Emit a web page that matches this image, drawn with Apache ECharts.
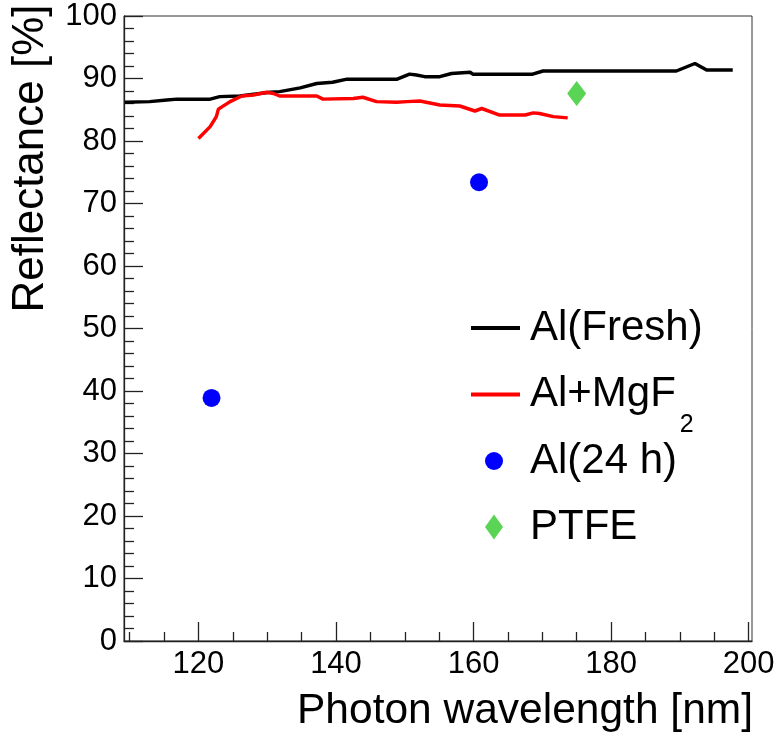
<!DOCTYPE html>
<html>
<head>
<meta charset="utf-8">
<script src="https://cdn.jsdelivr.net/npm/echarts@6/dist/echarts.min.js"></script>
<style>html,body{margin:0;padding:0;background:#fff}#c{width:780px;height:736px}</style>
</head>
<body>
<div id="c"></div>
<script>
// ---- data ----
const freshWavelength = [109.3,112.9,115.4,116.9,121.7,123.1,126.0,130.4,131.8,134.8,137.2,139.5,141.6,148.9,150.7,151.7,152.9,155.1,156.8,159.5,159.9,168.6,170.1,189.5,192.2,193.9,197.7];
const freshReflectance = [86.2,86.3,86.55,86.7,86.7,87.1,87.2,87.8,87.9,88.5,89.2,89.4,89.9,89.9,90.7,90.55,90.3,90.3,90.8,91.0,90.7,90.7,91.2,91.2,92.4,91.35,91.35];
const mgf2Wavelength = [120.0,121.7,122.6,122.9,124.6,126.3,128.0,129.9,130.9,131.8,137.2,138.1,142.5,143.9,145.9,148.8,150.3,152.2,155.1,158.0,160.2,161.2,163.8,167.5,168.7,169.6,171.6,173.7];
const mgf2Reflectance = [80.4,82.3,83.9,85.1,86.3,87.2,87.35,87.8,87.6,87.2,87.2,86.7,86.8,87.0,86.3,86.2,86.3,86.4,85.75,85.6,84.8,85.2,84.15,84.15,84.5,84.4,83.9,83.7];
const aged24Wavelength = [121.9, 160.8];
const aged24Reflectance = [38.9, 73.4];
const ptfeWavelength = [175.0];
const ptfeReflectance = [87.6];
const xMajorTicks = [120,140,160,180,200];
const xMinorTicks = [110,115,125,130,135,145,150,155,165,170,175,185,190,195];
const seriesNames = ['Al(Fresh)','Al+MgF2','Al(24 h)','PTFE'];

const zip = (a,b) => a.map((v,i)=>[v,b[i]]);
const FONT = "'Liberation Sans', Arial, Helvetica, sans-serif";
const XMIN = 109.17, XMAX = 200.5;

const chart = echarts.init(document.getElementById('c'), null, {renderer:'canvas'});
const legendBase = {
  orient:'vertical', padding:0, itemGap:0, selectedMode:false,
  textStyle:{fontFamily:FONT, fontSize:42, color:'#000', lineHeight:44}
};
chart.setOption({
  animation:false,
  backgroundColor:'#fff',
  grid:{left:124, right:28, top:16, bottom:95, containLabel:false, outerBoundsMode:'none',
        show:true, borderColor:'#333', borderWidth:1, backgroundColor:'transparent'},
  xAxis:[{
    type:'value', min:XMIN, max:XMAX, position:'bottom',
    name:'Photon wavelength [nm]', nameLocation:'middle', nameGap:49,
    nameTextStyle:{fontFamily:FONT, fontSize:42.5, color:'#000', padding:[0,0,0,174]},
    axisLine:{show:true, onZero:false, lineStyle:{color:'#222', width:1.3}},
    axisTick:{show:true, inside:true, length:19, customValues:xMajorTicks, lineStyle:{color:'#222', width:1.3}},
    axisLabel:{show:true, margin:8, fontFamily:FONT, fontSize:31, color:'#000', customValues:xMajorTicks},
    splitLine:{show:false}
  },{
    type:'value', min:XMIN, max:XMAX, position:'bottom',
    axisLine:{show:false},
    axisTick:{show:true, inside:true, length:9, customValues:xMinorTicks, lineStyle:{color:'#222', width:1.3}},
    axisLabel:{show:false},
    splitLine:{show:false}
  }],
  yAxis:{
    type:'value', min:0, max:100, interval:10,
    name:'Reflectance [%]', nameLocation:'middle', nameRotate:90, nameGap:71,
    nameTextStyle:{fontFamily:FONT, fontSize:44, color:'#000', padding:[0,0,0,340]},
    axisLine:{show:true, onZero:false, lineStyle:{color:'#222', width:1.3}},
    axisTick:{show:true, inside:true, length:19, lineStyle:{color:'#222', width:1.3}},
    minorTick:{show:true, splitNumber:5, length:10, lineStyle:{color:'#222', width:1.3}},
    axisLabel:{margin:7, fontFamily:FONT, fontSize:31, color:'#000', showMinLabel:true, showMaxLabel:true},
    splitLine:{show:false}
  },
  legend:[
    Object.assign({}, legendBase, {left:471, top:306, itemWidth:49, itemHeight:4, icon:'rect',
      data:[seriesNames[0]], textStyle:Object.assign({}, legendBase.textStyle, {padding:[0,0,0,5]})}),
    Object.assign({}, legendBase, {left:471, top:351, itemWidth:49, itemHeight:4, icon:'rect',
      data:[seriesNames[1]],
      formatter:()=> '{n|Al+MgF}{s|2}',
      textStyle:Object.assign({}, legendBase.textStyle, {
        rich:{
          n:{fontFamily:FONT, fontSize:42, color:'#000', lineHeight:44, padding:[0,0,0,5]},
          s:{fontFamily:FONT, fontSize:25, color:'#000', lineHeight:44, padding:[62,0,0,4]}
        }})}),
    Object.assign({}, legendBase, {left:485, top:439, itemWidth:18, itemHeight:25,
      data:[{name:seriesNames[2], icon:'circle'}], textStyle:Object.assign({}, legendBase.textStyle, {padding:[0,0,0,22]})}),
    Object.assign({}, legendBase, {left:485, top:505, itemWidth:18, itemHeight:25,
      data:[{name:seriesNames[3], icon:'diamond'}], textStyle:Object.assign({}, legendBase.textStyle, {padding:[0,0,0,22]})})
  ],
  series:[
    {name:seriesNames[0], type:'line', data:zip(freshWavelength, freshReflectance), showSymbol:false, symbol:'none',
     lineStyle:{color:'#000', width:3.5}, itemStyle:{color:'#000'}},
    {name:seriesNames[1], type:'line', data:zip(mgf2Wavelength, mgf2Reflectance), showSymbol:false, symbol:'none',
     lineStyle:{color:'#ff0000', width:3.5}, itemStyle:{color:'#ff0000'}},
    {name:seriesNames[2], type:'scatter', data:zip(aged24Wavelength, aged24Reflectance), symbol:'circle', symbolSize:18,
     itemStyle:{color:'#0000ff', opacity:1}},
    {name:seriesNames[3], type:'scatter', data:zip(ptfeWavelength, ptfeReflectance), symbol:'diamond', symbolSize:[19,25],
     itemStyle:{color:'#59d454', opacity:1}}
  ]
});
</script>
</body>
</html>
